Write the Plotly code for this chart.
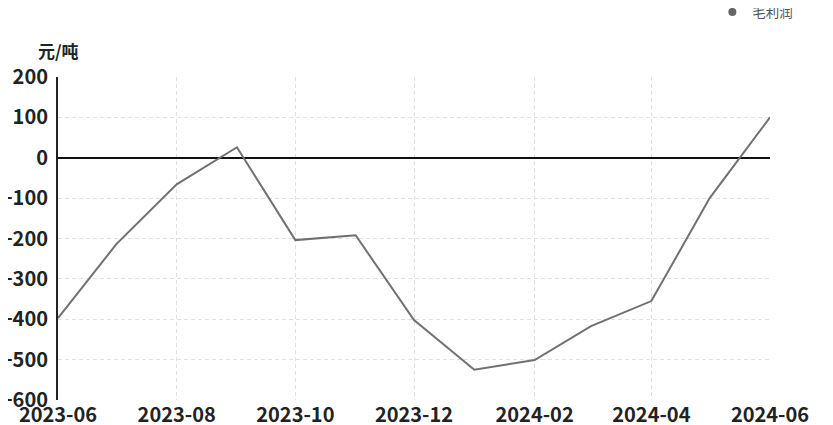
import plotly.graph_objects as go

months = ["2023-06-01", "2023-07-01", "2023-08-01", "2023-09-01", "2023-10-01", "2023-11-01",
          "2023-12-01", "2024-01-01", "2024-02-01", "2024-03-01", "2024-04-01", "2024-05-01",
          "2024-06-01"]
gross_profit = [-397, -214, -66, 26, -204, -192, -402, -525, -501, -417, -355, -100, 100]
series_name = "毛利润"
y_unit = "元/吨"

font_family = "Noto Sans CJK SC, Noto Sans, sans-serif"

fig = go.Figure()
fig.add_trace(go.Scatter(
    x=months, y=gross_profit, mode="lines", name=series_name,
    line=dict(color="#707070", width=2), showlegend=False,
))
# legend-only entry (dot symbol as in reference)
fig.add_trace(go.Scatter(
    x=[None], y=[None], mode="markers", name=series_name,
    marker=dict(color="#666666", size=8), showlegend=True,
))

# page body has an 8px default margin, so the figure is sized to fit the window
fig.update_layout(
    width=825, height=417,
    margin=dict(l=50, r=63, t=69, b=25, autoexpand=False),
    paper_bgcolor="white", plot_bgcolor="white",
    font=dict(family=font_family, color="#222"),
    showlegend=True,
    legend=dict(
        x=0.958, xanchor="right", xref="container",
        y=0.99, yanchor="middle", yref="container",
        orientation="h",
        font=dict(size=13.5, color="#555"),
        bgcolor="rgba(0,0,0,0)",
        itemwidth=30,
    ),
    xaxis=dict(
        type="date",
        range=["2023-06-01", "2024-06-01"],
        dtick="M2", tick0="2023-06-01", tickformat="%Y-%m",
        showgrid=True, gridcolor="#e0e0e0", griddash="4px,3px", gridwidth=1,
        showline=False, zeroline=False, ticks="",
        tickfont=dict(size=20, color="#222", weight="bold"),
        ticklabelstandoff=1, automargin=False,
    ),
    yaxis=dict(
        range=[-600, 200], dtick=100,
        showgrid=True, gridcolor="#e0e0e0", griddash="4px,3px", gridwidth=1,
        showline=True, linecolor="#222", linewidth=2,
        zeroline=True, zerolinecolor="#111", zerolinewidth=2,
        ticks="", tickfont=dict(size=20, color="#222", weight="bold"),
        ticklabelstandoff=4, automargin=False,
    ),
    annotations=[dict(
        text=y_unit, x=0.0, xanchor="center", y=1.0, yanchor="bottom",
        xref="paper", yref="paper", xshift=0, yshift=12,
        showarrow=False, font=dict(size=17, color="#222", weight="bold"),
    )],
)

fig.write_html("out.html")
